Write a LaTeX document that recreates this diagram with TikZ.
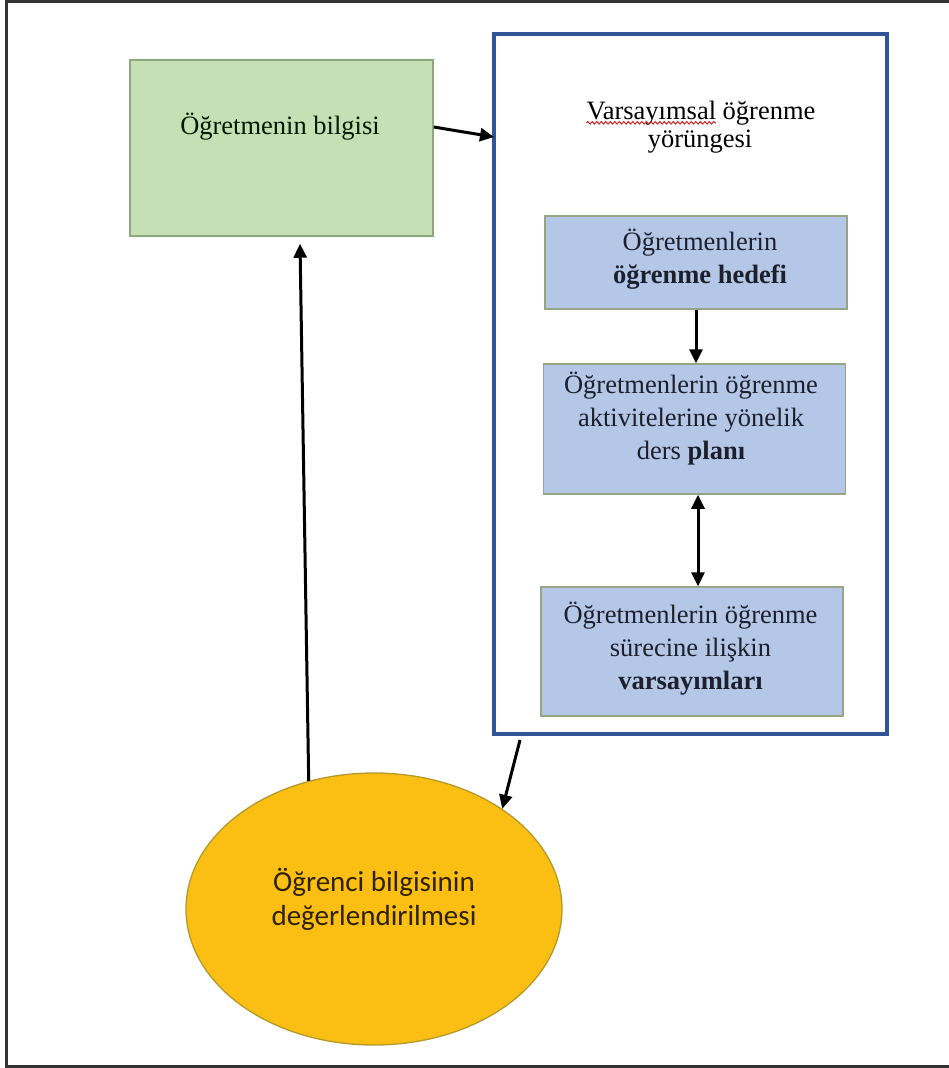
\documentclass[tikz,border=0pt]{standalone}
\usepackage{fontspec}
\setmainfont{Liberation Serif}
\newfontfamily\calibrifam{Carlito}
\usetikzlibrary{shapes.geometric,arrows.meta,calc,decorations.pathmorphing}

\definecolor{greenfill}{HTML}{C5E0B4}
\definecolor{greenedge}{HTML}{8FA67E}
\definecolor{bluefill}{HTML}{B4C7E7}
\definecolor{boxedge}{HTML}{95A585}
\definecolor{frameblue}{HTML}{2F5597}
\definecolor{goldfill}{HTML}{FBBE12}
\definecolor{goldedge}{HTML}{B49A2A}
\definecolor{inkblue}{HTML}{1C1F2C}
\definecolor{inkbrown}{HTML}{2E2200}
\definecolor{spellred}{HTML}{D42020}

\newcommand\bodyfs{\fontsize{26.5}{33}\selectfont}
\newlength\varswidth
\settowidth\varswidth{\bodyfs Varsayımsal}

\begin{document}
\begin{tikzpicture}[x=1pt,y=-1pt,
  tip/.tip={Triangle[length=14pt,width=13pt]},
  arr/.style={line width=3pt,-tip},
  dblarr/.style={line width=3pt,tip-tip},
  stepbox/.style={draw=boxedge,line width=1.5pt,fill=bluefill,rectangle,
    minimum width=302pt,inner sep=0pt},
  boxtext/.style={font=\bodyfs,align=center,inner sep=0pt,text=inkblue},
  plaintext/.style={font=\bodyfs,inner sep=0pt,text=black}]
\useasboundingbox (0,0) rectangle (949,1068);

% page frame (open on the right)
\draw[line width=2.2pt,draw=black!80] (949,1.5) -- (6.5,1.5) -- (6.5,1066.5) -- (949,1066.5);

% teacher knowledge
\node[draw=greenedge,line width=1.5pt,fill=greenfill,minimum width=303pt,
  minimum height=176pt,inner sep=0pt] (green) at (281.5,148) {};
\node[plaintext,text=black!90!green] (greentext) at (280,127) {Öğretmenin bilgisi};

% hypothetical learning trajectory frame
\node[draw=frameblue,line width=4.5pt,minimum width=393pt,minimum height=700pt,
  inner sep=0pt,outer sep=0pt] (frame) at (690.5,384) {};
\node[plaintext] (title1) at (701,113) {Varsayımsal öğrenme};
\node[plaintext] (title2) at (700,142) {yörüngesi};
\draw[spellred,line width=1pt,decorate,
  decoration={snake,amplitude=1.2pt,segment length=4.5pt}]
  ($(title1.base west)+(0pt,-3.5pt)$) -- ++(\varswidth,0pt);

% inner steps
\node[stepbox,minimum height=93pt] (b1) at (696,262.5) {};
\node[boxtext] (b1text) at (700,259) {Öğretmenlerin\\\textbf{öğrenme hedefi}};

\node[stepbox,minimum height=130pt] (b2) at (694.5,429) {};
\node[boxtext] (b2text) at (691,418.5) {Öğretmenlerin öğrenme\\aktivitelerine yönelik\\ders \textbf{planı}};

\node[stepbox,minimum height=129pt] (b3) at (692,651.5) {};
\node[boxtext] (b3text) at (690.5,648.5) {Öğretmenlerin öğrenme\\sürecine ilişkin\\\textbf{varsayımları}};

% student knowledge assessment
\node[ellipse,draw=goldedge,line width=1.3pt,fill=goldfill,minimum width=376pt,
  minimum height=272pt,inner sep=0pt] (ell) at (374,909) {};
\node[font=\calibrifam\fontsize{29}{34}\selectfont,align=center,inner sep=0pt,
  text=inkbrown] (elltext) at (374,899) {Öğrenci bilgisinin\\değerlendirilmesi};

% connectors
\draw[arr] ($(green.east)+(0,-21)$) -- ($(frame.west)+(0,-247)$);
\draw[arr] (b1.south) -- (b1.south |- b2.north);
\coordinate (b2s) at ($(b2.south)+(3.5,0)$);
\draw[dblarr] (b2s) -- (b2s |- b3.north);
\draw[arr] ($(frame.south)+(-170.5,6)$) -- (ell.38);
\draw[arr] (ell.117.5) -- ($(green.south)+(18.5,7)$);
\end{tikzpicture}
\end{document}
